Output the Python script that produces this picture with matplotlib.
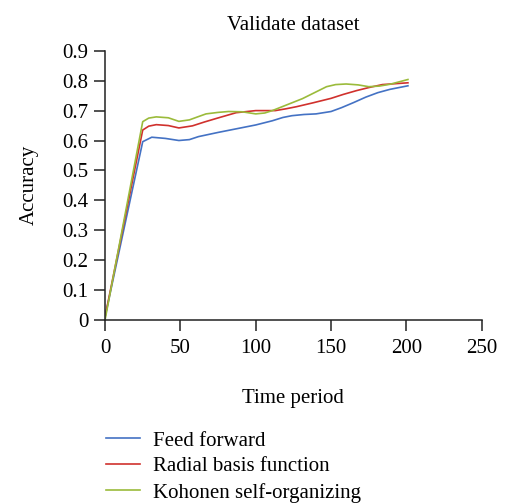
import matplotlib
matplotlib.use('Agg')
import matplotlib.pyplot as plt

plt.rcParams.update({'font.family': ['Liberation Serif', 'DejaVu Serif'], 'font.size': 15})

x_ff = [0, 25, 31, 40, 49, 56, 62, 75, 88, 100, 111, 118, 124, 132, 140, 150, 157, 165, 173, 181, 189, 201]
y_ff = [0.01, 0.596, 0.611, 0.607, 0.600, 0.603, 0.613, 0.627, 0.640, 0.652, 0.666, 0.677, 0.683, 0.687, 0.689, 0.697, 0.710, 0.727, 0.745, 0.760, 0.771, 0.783]

x_rb = [0, 25, 29, 34, 42, 49, 58, 66, 74, 87, 100, 113, 120, 127, 138, 150, 158, 167, 175, 184, 201]
y_rb = [0.01, 0.635, 0.648, 0.653, 0.650, 0.642, 0.649, 0.662, 0.674, 0.693, 0.700, 0.700, 0.706, 0.713, 0.726, 0.741, 0.754, 0.767, 0.777, 0.787, 0.793]

x_ko = [0, 25, 29, 34, 42, 49, 56, 62, 67, 75, 82, 91, 100, 106, 111, 121, 131, 139, 147, 153, 160, 168, 175, 182, 189, 201]
y_ko = [0.0, 0.663, 0.675, 0.679, 0.676, 0.664, 0.669, 0.680, 0.689, 0.694, 0.697, 0.696, 0.689, 0.692, 0.700, 0.720, 0.740, 0.760, 0.780, 0.787, 0.789, 0.786, 0.780, 0.782, 0.788, 0.804]

series = [('Feed forward', x_ff, y_ff, '#4472C4'),
          ('Radial basis function', x_rb, y_rb, '#D0312D'),
          ('Kohonen self-organizing', x_ko, y_ko, '#9BBB3B')]

fig = plt.figure(figsize=(5.05, 5.03), dpi=100, facecolor='white')
ax = fig.add_axes([0.208, 0.364, 0.746, 0.535])
for lab, xs, ys, col in series:
    ax.plot(xs, ys, color=col, lw=1.2, label=lab)

ax.set_xlim(0, 250)
ax.set_ylim(0, 0.9)
ax.set_xticks([0, 50, 100, 150, 200, 250])
ax.set_yticks([i / 10 for i in range(10)])
ax.set_yticklabels(['0'] + [f'{i/10:.1f}' for i in range(1, 10)])
ax.spines[['top', 'right']].set_visible(False)
for s in ['left', 'bottom']:
    ax.spines[s].set_color('#222222')
    ax.spines[s].set_linewidth(1.1)
ax.tick_params(direction='out', length=8, width=1.1, color='#222222', labelsize=15)
ax.tick_params(axis='x', pad=6)
ax.tick_params(axis='y', pad=4)
ax.set_title('Validate dataset', fontsize=15, pad=15)
ax.set_xlabel('Time period', fontsize=15, labelpad=22)
ax.set_ylabel('Accuracy', fontsize=15, labelpad=17)

h, l = ax.get_legend_handles_labels()
fig.legend(h, l, loc='upper left', bbox_to_anchor=(0.21, 0.143), frameon=False,
           fontsize=15, handlelength=1.65, handletextpad=0.62, labelspacing=0.3,
           borderaxespad=0, borderpad=0)

fig.savefig('out.png', dpi=100)
